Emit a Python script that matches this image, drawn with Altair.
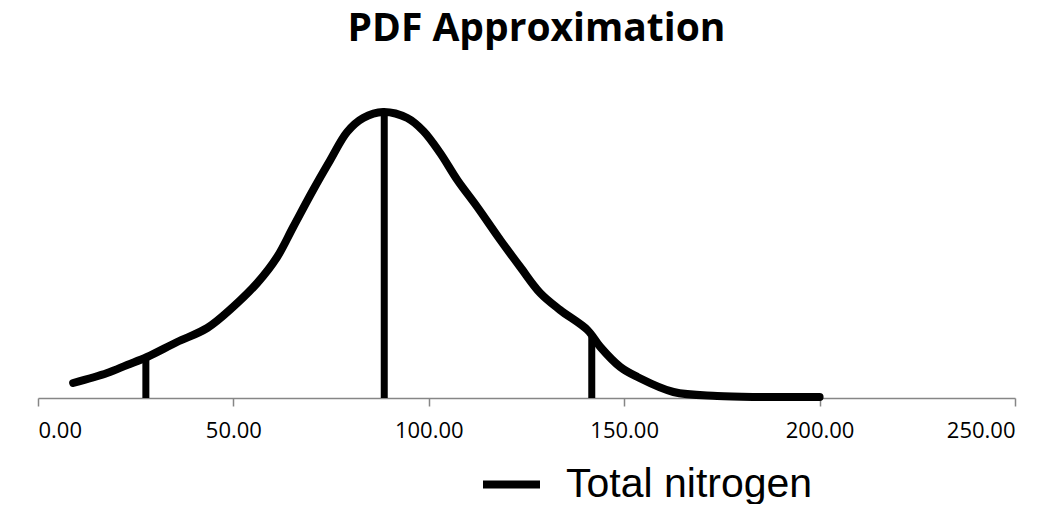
import altair as alt
import pandas as pd

# Curve readings (x value, relative density height)
curve_x = [9.0, 17.7, 22.8, 27.9, 35.6, 43.3, 49.9, 56.1, 61.2, 65.3, 70.4, 74.8,
           79.1, 83.2, 88.3, 94.5, 98.6, 102.9, 107.3, 112.4, 118.3, 123.4, 128.5,
           133.6, 140.6, 143.9, 149.0, 153.4, 162.6, 173.8, 184.8, 200.0]
curve_y = [15, 25, 33, 41, 56, 70, 91, 115, 141, 171, 208, 238,
           266, 280, 286, 280, 267, 245, 218, 191, 158, 131, 105,
           88, 68, 51, 31, 21, 6, 2, 1, 1]

# Vertical marker lines (x position, height)
marker_x = [27.6, 88.6, 141.7]
marker_y = [41, 286, 61]

series_name = "Total nitrogen"
x_ticks = [0, 50, 100, 150, 200, 250]

curve = pd.DataFrame({"x": curve_x, "y": curve_y, "series": [series_name] * len(curve_x)})
markers = pd.DataFrame({"x": marker_x, "ytop": marker_y, "ybase": [0] * len(marker_x)})

xscale = alt.Scale(domain=[0, 250], nice=False, zero=False)
yscale = alt.Scale(domain=[0, 298], nice=False)

xaxis = alt.Axis(values=x_ticks, format=".2f", title=None, grid=False,
                 domainColor="#868686", domainWidth=1.5, tickColor="#868686",
                 tickWidth=1.5, tickSize=8, labelPadding=14, labelFontSize=22,
                 labelFont="Open Sans", labelColor="black")

line = alt.Chart(curve).mark_line(strokeWidth=8, strokeCap="round",
                                  interpolate="catmull-rom").encode(
    x=alt.X("x:Q", scale=xscale, axis=xaxis),
    y=alt.Y("y:Q", scale=yscale, axis=None),
    color=alt.Color("series:N",
                    scale=alt.Scale(domain=[series_name], range=["black"]),
                    legend=alt.Legend(orient="none", legendX=441, legendY=352,
                                      title=None, symbolType="stroke",
                                      symbolSize=3249, symbolStrokeWidth=8,
                                      labelFontSize=41, labelFont="Liberation Sans",
                                      labelColor="black", padding=0,
                                      labelLimit=0, labelOffset=22)),
)

rules = alt.Chart(markers).mark_rule(strokeWidth=7, color="black").encode(
    x=alt.X("x:Q", scale=xscale, axis=xaxis),
    y=alt.Y("ybase:Q", scale=yscale, axis=None),
    y2=alt.Y2("ytop"),
)

chart = alt.layer(rules, line).properties(
    width=977, height=298,
    background="white",
    autosize=alt.AutoSizeParams(type="none"),
    padding={"left": 30, "top": 92, "right": 32, "bottom": 106},
    title=alt.TitleParams("PDF Approximation", font="Open Sans", fontSize=39,
                          fontWeight="bold", anchor="middle", offset=47, dx=10,
                          color="black"),
).configure_view(strokeWidth=0)

chart.save("out.html", embed_options={"renderer": "svg", "actions": False})
